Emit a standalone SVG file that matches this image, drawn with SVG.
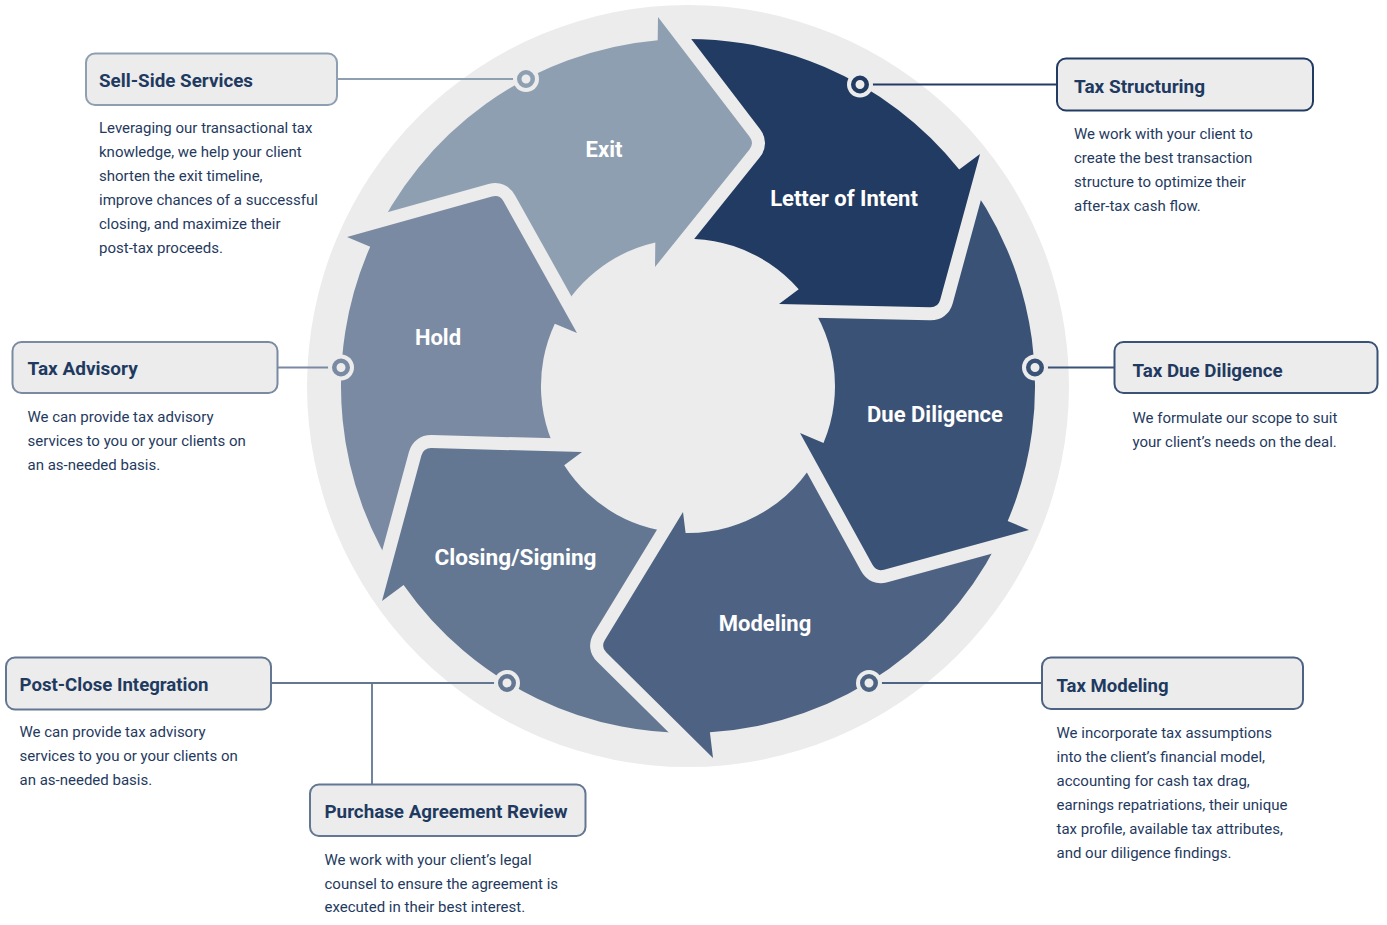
<svg xmlns="http://www.w3.org/2000/svg" xmlns:xlink="http://www.w3.org/1999/xlink" width="1387" height="925" viewBox="0 0 1387 925">
<style>
.title{font-family:Roboto,"Liberation Sans",sans-serif;font-weight:700;font-size:19px;fill:#1f3a60}
.body{font-family:Roboto,"Liberation Sans",sans-serif;font-size:15px;fill:#1f3a60}
.stage{font-family:Roboto,"Liberation Sans",sans-serif;font-weight:700;font-size:22px;fill:#ffffff;text-anchor:middle}
.box{fill:#ececec;stroke-width:2}
.conn{fill:none;stroke-width:1.8}
.halo{fill:#ececec}
.ring{fill:#ececec;stroke-width:4.5}
.cut{fill:#000;stroke:#000;stroke-width:26;stroke-linejoin:round}
</style>
<defs>
<path id="h-exit" d="M658,17 L749.6,136.8 Q754.5,143.2 749.5,149.4 L655,267 Z"/>
<path id="h-loi" d="M980,154 L940.2,299.8 Q938.1,307.5 930.1,307.3 L779,304 Z"/>
<path id="h-dd" d="M1029,530 L884,569.7 Q876.3,571.8 872.5,564.8 L800,433 Z"/>
<path id="h-mod" d="M713,758 L606.4,652.5 Q600.7,646.9 604.9,640.1 L683,512 Z"/>
<path id="h-close" d="M382,601 L421.4,455.6 Q423.5,447.9 431.5,448.1 L582,452 Z"/>
<path id="h-hold" d="M347,237 L492,196.6 Q499.7,194.5 503.6,201.5 L577,333 Z"/>
<mask id="m-exit" maskUnits="userSpaceOnUse" x="0" y="0" width="1387" height="925"><rect width="1387" height="925" fill="#fff"/><use href="#h-hold" class="cut"/></mask>
<mask id="m-loi" maskUnits="userSpaceOnUse" x="0" y="0" width="1387" height="925"><rect width="1387" height="925" fill="#fff"/><use href="#h-exit" class="cut"/></mask>
<mask id="m-dd" maskUnits="userSpaceOnUse" x="0" y="0" width="1387" height="925"><rect width="1387" height="925" fill="#fff"/><use href="#h-loi" class="cut"/></mask>
<mask id="m-mod" maskUnits="userSpaceOnUse" x="0" y="0" width="1387" height="925"><rect width="1387" height="925" fill="#fff"/><use href="#h-dd" class="cut"/></mask>
<mask id="m-close" maskUnits="userSpaceOnUse" x="0" y="0" width="1387" height="925"><rect width="1387" height="925" fill="#fff"/><use href="#h-mod" class="cut"/></mask>
<mask id="m-hold" maskUnits="userSpaceOnUse" x="0" y="0" width="1387" height="925"><rect width="1387" height="925" fill="#fff"/><use href="#h-close" class="cut"/></mask>
</defs>
<rect width="1387" height="925" fill="#ffffff"/>
<circle cx="688" cy="386" r="381" fill="#ececec"/>

<g id="stage-exit">
<path fill="#8f9fb2" mask="url(#m-exit)" d="M370.2,246.7 A347,347 0 0 1 657.7,40.3 L658,17 L749.6,136.8 Q754.5,143.2 749.5,149.4 L655,267 L655.3,242.5 A147,147 0 0 0 554.8,323.7 Z"/>
<text class="stage" x="604" y="157">Exit</text>
</g>
<g id="stage-loi">
<path fill="#223b62" mask="url(#m-loi)" d="M657.7,40.3 A347,347 0 0 1 959.2,169.5 L980,154 L940.2,299.8 Q938.1,307.5 930.1,307.3 L779,304 L798.7,289.3 A147,147 0 0 0 655.3,242.5 Z"/>
<text class="stage" x="844" y="206">Letter of Intent</text>
</g>
<g id="stage-dd">
<path fill="#3a5275" mask="url(#m-dd)" d="M959.2,169.5 A347,347 0 0 1 1007.7,521 L1029,530 L884,569.7 Q876.3,571.8 872.5,564.8 L800,433 L823.5,443 A147,147 0 0 0 798.7,289.3 Z"/>
<text class="stage" x="935" y="421.5">Due Diligence</text>
</g>
<g id="stage-modeling">
<path fill="#4e6383" mask="url(#m-mod)" d="M1007.7,521 A347,347 0 0 1 709.9,732.3 L713,758 L606.4,652.5 Q600.7,646.9 604.9,640.1 L683,512 L685.6,533 A147,147 0 0 0 823.5,443 Z"/>
<text class="stage" x="765" y="631">Modeling</text>
</g>
<g id="stage-closing">
<path fill="#637792" mask="url(#m-close)" d="M709.9,732.3 A347,347 0 0 1 403.6,584.9 L382,601 L421.4,455.6 Q423.5,447.9 431.5,448.1 L582,452 L564.2,465.3 A147,147 0 0 0 685.6,533 Z"/>
<text class="stage" x="515.5" y="564.5" textLength="162" lengthAdjust="spacingAndGlyphs">Closing/Signing</text>
</g>
<g id="stage-hold">
<path fill="#7a8aa2" mask="url(#m-hold)" d="M403.6,584.9 A347,347 0 0 1 370.2,246.7 L347,237 L492,196.6 Q499.7,194.5 503.6,201.5 L577,333 L554.8,323.7 A147,147 0 0 0 564.2,465.3 Z"/>
<text class="stage" x="438" y="344.5">Hold</text>
</g>

<g id="connectors">
<line class="conn" stroke="#8f9fb2" x1="337" y1="79" x2="526" y2="79"/>
<line class="conn" stroke="#223b62" x1="860" y1="84.5" x2="1057" y2="84.5"/>
<line class="conn" stroke="#7a8aa2" x1="277" y1="367.5" x2="341" y2="367.5"/>
<line class="conn" stroke="#3a5275" x1="1035" y1="367.5" x2="1115" y2="367.5"/>
<line class="conn" stroke="#637792" x1="271" y1="683" x2="507" y2="683"/>
<line class="conn" stroke="#637792" x1="372" y1="683" x2="372" y2="784"/>
<line class="conn" stroke="#4e6383" x1="869" y1="683" x2="1042" y2="683"/>
<g>
<circle class="halo" cx="526" cy="79" r="13"/><circle class="ring" stroke="#8f9fb2" cx="526" cy="79" r="6.75"/>
<circle class="halo" cx="860" cy="84.5" r="13"/><circle class="ring" stroke="#223b62" cx="860" cy="84.5" r="6.75"/>
<circle class="halo" cx="341" cy="367.5" r="13"/><circle class="ring" stroke="#7a8aa2" cx="341" cy="367.5" r="6.75"/>
<circle class="halo" cx="1035" cy="367.5" r="13"/><circle class="ring" stroke="#3a5275" cx="1035" cy="367.5" r="6.75"/>
<circle class="halo" cx="507" cy="683" r="13"/><circle class="ring" stroke="#637792" cx="507" cy="683" r="6.75"/>
<circle class="halo" cx="869" cy="683" r="13"/><circle class="ring" stroke="#4e6383" cx="869" cy="683" r="6.75"/>
</g>
</g>

<g id="sell-side">
<rect class="box" stroke="#8f9fb2" x="86" y="53.5" width="251" height="51.5" rx="9"/>
<text class="title" x="99" y="87" textLength="154" lengthAdjust="spacingAndGlyphs">Sell-Side Services</text>
<text class="body" x="99" y="133">Leveraging our transactional tax</text>
<text class="body" x="99" y="157">knowledge, we help your client</text>
<text class="body" x="99" y="181">shorten the exit timeline,</text>
<text class="body" x="99" y="205">improve chances of a successful</text>
<text class="body" x="99" y="229">closing, and maximize their</text>
<text class="body" x="99" y="253">post-tax proceeds.</text>
</g>
<g id="tax-structuring">
<rect class="box" stroke="#223b62" x="1057" y="58.5" width="256" height="52" rx="9"/>
<text class="title" x="1074" y="93">Tax Structuring</text>
<text class="body" x="1074" y="139">We work with your client to</text>
<text class="body" x="1074" y="163">create the best transaction</text>
<text class="body" x="1074" y="187">structure to optimize their</text>
<text class="body" x="1074" y="211">after-tax cash flow.</text>
</g>
<g id="tax-advisory">
<rect class="box" stroke="#7a8aa2" x="12.5" y="342" width="265" height="51" rx="9"/>
<text class="title" x="27.5" y="375">Tax Advisory</text>
<text class="body" x="27.5" y="422">We can provide tax advisory</text>
<text class="body" x="27.5" y="446">services to you or your clients on</text>
<text class="body" x="27.5" y="470">an as-needed basis.</text>
</g>
<g id="tax-due-diligence">
<rect class="box" stroke="#3a5275" x="1114.5" y="342" width="263" height="51" rx="9"/>
<text class="title" x="1132.5" y="376.5" textLength="150" lengthAdjust="spacingAndGlyphs">Tax Due Diligence</text>
<text class="body" x="1132.5" y="423">We formulate our scope to suit</text>
<text class="body" x="1132.5" y="447">your client’s needs on the deal.</text>
</g>
<g id="post-close">
<rect class="box" stroke="#637792" x="6" y="657.5" width="265" height="52" rx="9"/>
<text class="title" x="19.5" y="691" textLength="189" lengthAdjust="spacingAndGlyphs">Post-Close Integration</text>
<text class="body" x="19.5" y="737">We can provide tax advisory</text>
<text class="body" x="19.5" y="761">services to you or your clients on</text>
<text class="body" x="19.5" y="785">an as-needed basis.</text>
</g>
<g id="purchase-agreement">
<rect class="box" stroke="#637792" x="310" y="784.5" width="275.5" height="51.5" rx="9"/>
<text class="title" x="324.5" y="818" textLength="243" lengthAdjust="spacingAndGlyphs">Purchase Agreement Review</text>
<text class="body" x="324.5" y="864.5">We work with your client’s legal</text>
<text class="body" x="324.5" y="888.5">counsel to ensure the agreement is</text>
<text class="body" x="324.5" y="912">executed in their best interest.</text>
</g>
<g id="tax-modeling">
<rect class="box" stroke="#4e6383" x="1042" y="657.5" width="261" height="51.5" rx="9"/>
<text class="title" x="1056.5" y="692" textLength="112" lengthAdjust="spacingAndGlyphs">Tax Modeling</text>
<text class="body" x="1056.5" y="738">We incorporate tax assumptions</text>
<text class="body" x="1056.5" y="762">into the client’s financial model,</text>
<text class="body" x="1056.5" y="786">accounting for cash tax drag,</text>
<text class="body" x="1056.5" y="810">earnings repatriations, their unique</text>
<text class="body" x="1056.5" y="834">tax profile, available tax attributes,</text>
<text class="body" x="1056.5" y="858">and our diligence findings.</text>
</g>
</svg>
